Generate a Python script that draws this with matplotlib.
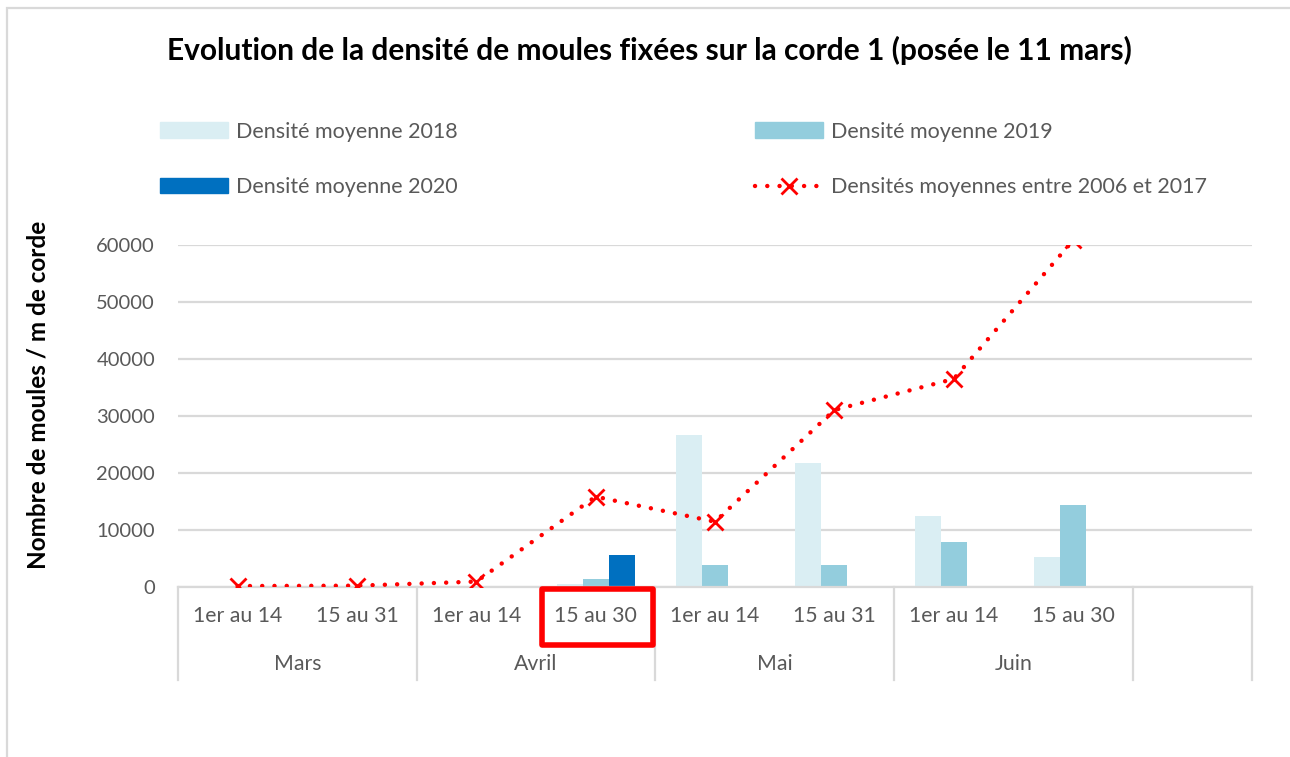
import numpy as np
import matplotlib
matplotlib.use("Agg")
import matplotlib.pyplot as plt
from matplotlib.patches import Rectangle, Patch
from matplotlib.lines import Line2D
import matplotlib.transforms as mtransforms

plt.rcParams['font.family'] = ['Lato', 'DejaVu Sans']

# data
periods = ["1er au 14", "15 au 31", "1er au 14", "15 au 30",
           "1er au 14", "15 au 31", "1er au 14", "15 au 30", ""]
months = ["Mars", "Avril", "Mai", "Juin", ""]
dens_2018 = [0, 0, 0, 600, 26700, 21700, 12500, 5250, np.nan]
dens_2019 = [0, 0, 0, 1450, 3850, 3850, 7950, 14300, np.nan]
dens_2020 = [0, 0, 0, 5600, np.nan, np.nan, np.nan, np.nan, np.nan]
dens_2006_2017 = [170, 230, 950, 15850, 11450, 31050, 36500, 60800]

grey_txt = "#595959"
grid_col = "#D9D9D9"
red = "#FF0000"
dots = (0, (0.01, 2.75))

fig = plt.figure(figsize=(12.9, 7.57), dpi=100)
ax = fig.add_axes([178/1290, 1-587/757, (1252-178)/1290, (587-245)/757])

x = np.arange(len(periods))
w = 0.218
ax.bar(x - w, dens_2018, w, color="#DAEEF3", zorder=2)
ax.bar(x, dens_2019, w, color="#93CDDD", zorder=2)
ax.bar(x + w, dens_2020, w, color="#0070C0", zorder=2)

lx = x[:len(dens_2006_2017)]
ax.plot(lx, dens_2006_2017, color=red, lw=3.2, linestyle=dots,
        dash_capstyle="round", zorder=3)
ax.plot(lx, dens_2006_2017, linestyle="none", marker="x", ms=11, mew=2,
        color=red, zorder=4)

ax.set_xlim(-0.5, len(periods) - 0.5)
ax.set_ylim(0, 60000)
ax.set_yticks(np.arange(0, 60001, 10000))
ax.yaxis.grid(True, color=grid_col, lw=1.6, zorder=0)
ax.set_axisbelow(True)
for s in ["top", "right", "left"]:
    ax.spines[s].set_visible(False)
ax.spines["bottom"].set_color(grid_col)
ax.spines["bottom"].set_linewidth(1.6)
ax.tick_params(axis="y", length=0, pad=16.5, labelsize=14.5, labelcolor=grey_txt)
ax.tick_params(axis="x", length=0, pad=14, labelsize=15.3, labelcolor=grey_txt)
ax.set_xticks(x)
ax.set_xticklabels(periods)

# month level of the category axis
trans = mtransforms.blended_transform_factory(ax.transData, ax.transAxes)
for i, m in enumerate(months):
    ax.text(2*i + 0.5, -77/342, m, transform=trans, ha="center", va="center",
            fontsize=15.3, color=grey_txt)
for b in list(np.arange(-0.5, len(periods), 2)) + [len(periods) - 0.5]:
    ax.plot([b, b], [0, -93/342], transform=trans, color=grid_col, lw=1.6,
            clip_on=False)

# red highlight box round "15 au 30" in Avril
ax.add_patch(Rectangle((3 - 0.45, -58/342), 0.93, 56/342, transform=trans,
                       fill=False, edgecolor=red, lw=4, clip_on=False,
                       zorder=5, joinstyle="round"))

fig.text(649/1290, 1-50/757,
         "Evolution de la densité de moules fixées sur la corde 1 (posée le 11 mars)",
         ha="center", va="center", fontsize=21.5, fontweight="bold")
fig.text(38/1290, 1-395/757, "Nombre de moules / m de corde", rotation=90,
         ha="center", va="center", fontsize=17.5, fontweight="bold")

handles = [Patch(color="#DAEEF3"), Patch(color="#0070C0"),
           Patch(color="#93CDDD"),
           Line2D([], [], color=red, lw=3.2, linestyle=dots,
                  dash_capstyle="round", marker="x", ms=11, mew=2)]
labels = ["Densité moyenne 2018", "Densité moyenne 2020",
          "Densité moyenne 2019", "Densités moyennes entre 2006 et 2017"]
fig.legend(handles, labels, ncol=2, loc="upper left",
           bbox_to_anchor=(160/1290, 1-121.5/757), frameon=False,
           fontsize=15.5, handlelength=3.16, handletextpad=0.37,
           columnspacing=13.8, labelspacing=1.67, borderpad=0,
           borderaxespad=0, labelcolor=grey_txt)

fig.patches.append(Rectangle((7/1290, -0.1), 1.2, 1.1 - 8/757,
                             transform=fig.transFigure, fill=False,
                             edgecolor=grid_col, lw=1.6))

fig.savefig("out.png", dpi=100)
